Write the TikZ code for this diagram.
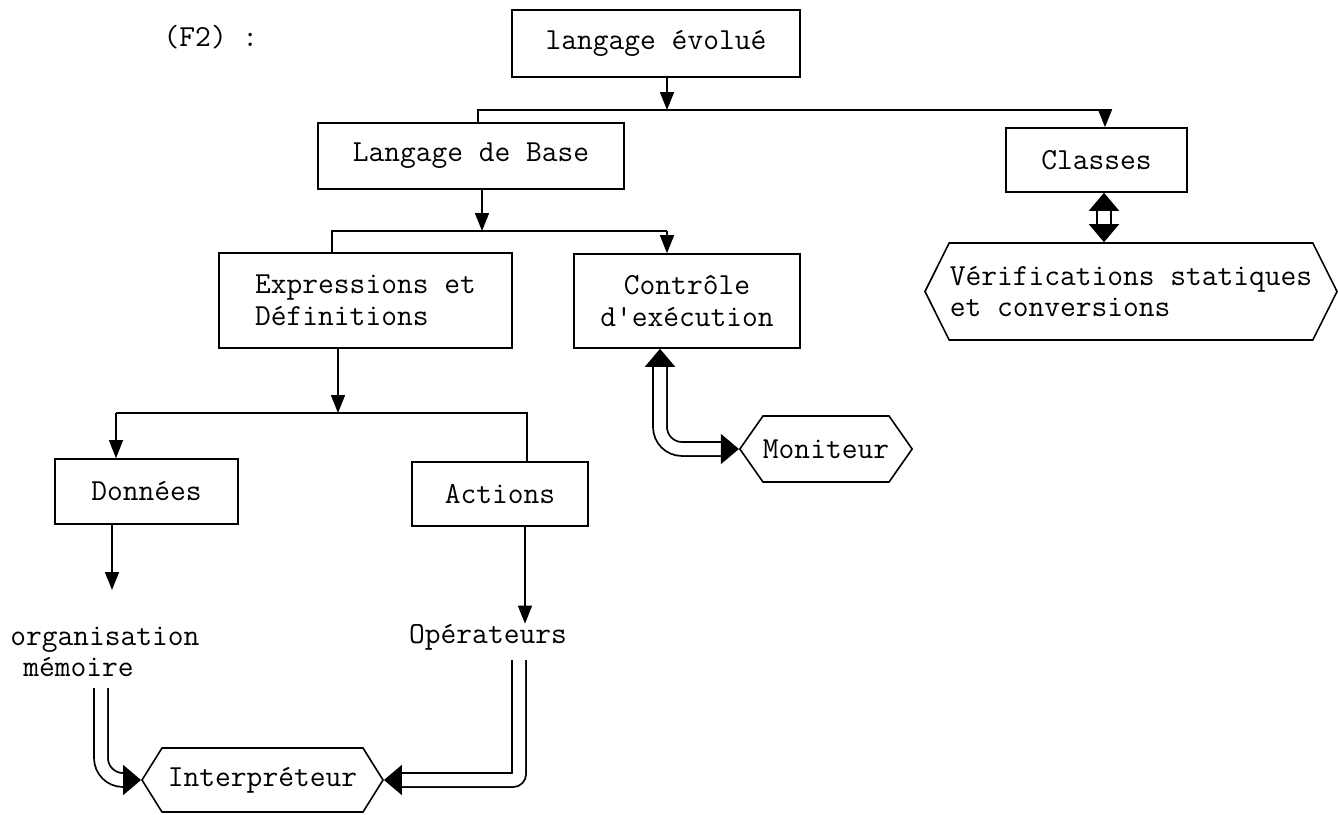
\documentclass[tikz,border=0pt]{standalone}
\usepackage{fontspec}
\usetikzlibrary{arrows.meta,shapes.symbols}
\begin{document}
\begin{tikzpicture}[x=0.5pt,y=-0.5pt,
  txt/.style={font=\ttfamily\fontsize{15.3}{15.8}\selectfont, inner sep=0pt},
  box/.style={txt, draw, line width=0.8pt, rectangle},
  hexa/.style={txt, draw, line width=0.8pt, signal, signal to=west and east},
  link/.style={line width=0.8pt},
  arr/.style={link, -{Triangle[width=7pt,length=9pt]}},
  dblone/.style={double, double distance=6pt, line width=0.9pt, -{Triangle[width=15pt,length=9pt]}},
  dblboth/.style={double, double distance=6pt, line width=0.9pt, {Triangle[width=15pt,length=9pt]}-{Triangle[width=15pt,length=9pt]}}
]
\useasboundingbox (0,0) rectangle (1338,814);

% title
\node[txt] (f2) at (211,37) {(F2) :};

% boxes
\node[box, minimum width=144pt, minimum height=33.5pt] (evol) at (656,43.5) {langage évolué};
\node[box, minimum width=153pt, minimum height=33pt] (base) at (471,156) {Langage de Base};
\node[box, minimum width=90.5pt, minimum height=32pt] (classes) at (1096.5,160) {Classes};
\node[box, minimum width=146.5pt, minimum height=47.5pt, align=left] (expr) at (365.5,300.5) {Expressions et\\Définitions};
\node[box, minimum width=113pt, minimum height=47pt, align=center] (ctrl) at (687,301) {Contrôle\\d\textquotesingle exécution};
\node[box, minimum width=91.5pt, minimum height=32.5pt] (don) at (146.5,491.5) {Données};
\node[box, minimum width=88pt, minimum height=32pt] (act) at (500,494) {Actions};

% pointed boxes
\node[hexa, signal pointer angle=127, minimum width=206pt, minimum height=48.5pt, align=left] (verif) at (1131,291.5) {Vérifications statiques\\et conversions};
\node[hexa, signal pointer angle=110, minimum width=84pt, minimum height=33pt] (mon) at (826,449) {Moniteur};
\node[hexa, signal pointer angle=116, minimum width=120.5pt, minimum height=32pt] (int) at (262.5,780) {Interpréteur};

% plain labels
\node[txt, align=left, anchor=west] (org) at (10,652) {organisation\\\hspace*{6.5pt}mémoire};
\node[txt] (ope) at (488,637) {Opérateurs};

% branch points
\coordinate (j1) at (667,110);
\coordinate (b1L) at (478,110);
\coordinate (b1R) at (1105,110);
\coordinate (j2) at (482,231);
\coordinate (b2L) at (332,231);
\coordinate (b2R) at (667,231);
\coordinate (j3) at (338,413);
\coordinate (b3L) at (116,413);
\coordinate (b3R) at (527,413);
\coordinate (memtip) at (112,590);
\coordinate (acol) at (525,0);
\coordinate (ccol) at (1104,0);
\coordinate (mcol) at (660,0);
\coordinate (orgout) at (101,688);
\coordinate (opeout) at (519,660);

% tree connectors
\draw[arr] (evol.south -| j1) -- (j1);
\draw[link] (base.north -| b1L) -- (b1L) -- (b1R);
\draw[arr] (b1R) -- (classes.north -| b1R);

\draw[arr] (base.south -| j2) -- (j2);
\draw[link] (expr.north -| b2L) -- (b2L) -- (b2R);
\draw[arr] (b2R) -- (ctrl.north -| b2R);

\draw[arr] (expr.south -| j3) -- (j3);
\draw[link] (act.north -| b3R) -- (b3R) -- (b3L);
\draw[arr] (b3L) -- (don.north -| b3L);

\draw[arr] (don.south -| memtip) -- (memtip);
\draw[arr] (act.south -| acol) -- (ope.north -| acol);

% double connectors
\draw[dblboth] (classes.south -| ccol) -- (verif.north -| ccol);
\draw[dblboth, rounded corners=11pt] (ctrl.south -| mcol) |- (mon.west);
\draw[dblone, rounded corners=11pt] (orgout) |- (int.west);
\draw[dblone, rounded corners=3pt] (opeout) |- (int.east);
\end{tikzpicture}
\end{document}
